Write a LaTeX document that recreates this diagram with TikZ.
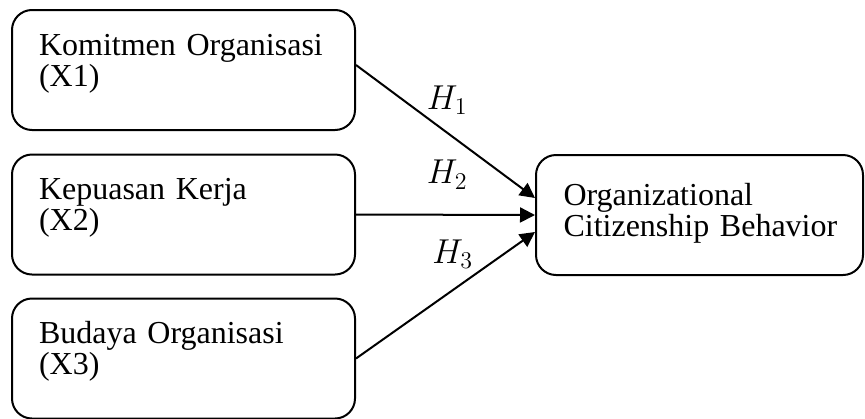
\documentclass[tikz,border=0pt]{standalone}
\usepackage{fontspec}
\setmainfont{Liberation Serif}
\usetikzlibrary{arrows.meta}

\begin{document}
\begin{tikzpicture}[x=0.5pt, y=-0.5pt]
    \tikzset{varnode/.style={draw=black, line width=1pt, rounded corners=10pt, minimum width=171.5pt, minimum height=60pt, inner xsep=13.5pt, inner ysep=0pt, text width=144.5pt, align=left, font=\fontsize{16}{15.5}\selectfont, text height=5pt, text depth=20pt}}
    \tikzset{depnode/.style={varnode, minimum width=163.5pt, inner xsep=13.75pt, text width=136pt, text height=8pt, text depth=18pt}}
    \tikzset{hyparrow/.style={line width=1pt, -{Triangle[length=7.5pt, width=7.5pt]}}}
    \tikzset{hyplabel/.style={font=\fontsize{17}{20}\selectfont}}
    \useasboundingbox (0,0) rectangle (865,418);

    % VARIABLE NODES
    \node[varnode] (X1) at (183.5,70) {Komitmen Organisasi\\(X1)};
    \node[varnode] (X2) at (183.5,214.5) {Kepuasan Kerja\\(X2)};
    \node[varnode] (X3) at (183.5,358.5) {Budaya Organisasi\\(X3)};
    \node[depnode] (Y) at (699.5,215) {Organizational\\\mbox{Citizenship Behavior}};

    % HYPOTHESIS ARROWS
    \draw[hyparrow] ([yshift=2.5pt]X1.east) -- ([yshift=8.5pt]Y.west) node[hyplabel, pos=0.51, yshift=16.5pt] {$H_1$};
    \draw[hyparrow] (X2.east) -- (Y.west) node[hyplabel, pos=0.51, yshift=20pt] {$H_2$};
    \draw[hyparrow] (X3.east) -- ([yshift=-8.5pt]Y.west) node[hyplabel, pos=0.54, yshift=18pt] {$H_3$};
\end{tikzpicture}
\end{document}
